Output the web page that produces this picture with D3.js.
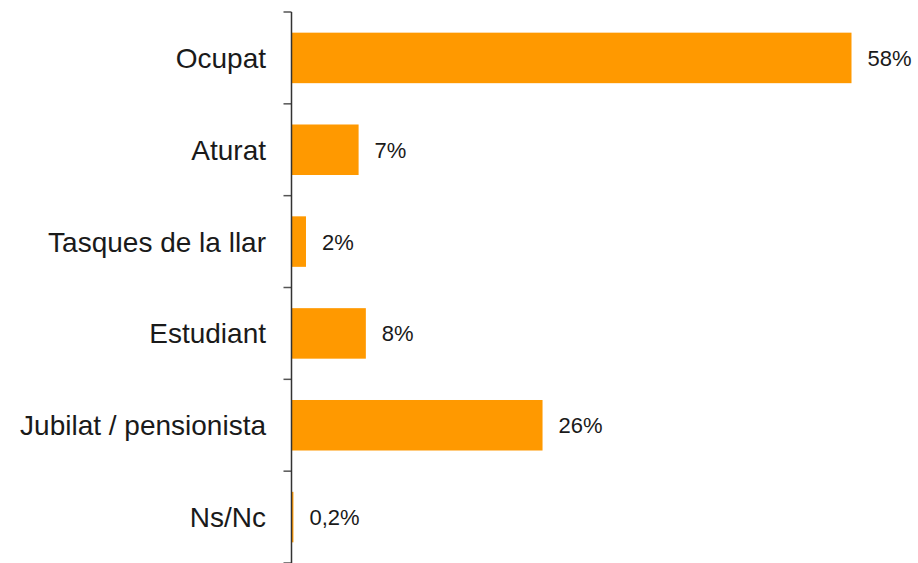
<!DOCTYPE html>
<html>
<head>
<meta charset="utf-8">
<script src="https://cdn.jsdelivr.net/npm/d3@7"></script>
<style>
  body { margin: 0; background: #fff; }
  text { font-family: "Liberation Sans", Arial, sans-serif; fill: #1a1a1a; }
</style>
</head>
<body>
<div id="chart"></div>
<script>
// categories and values
var categories = ["Ocupat", "Aturat", "Tasques de la llar", "Estudiant", "Jubilat / pensionista", "Ns/Nc"];
var values = [58, 6.95, 1.5, 7.7, 26, 0.2];
var labels = ["58%", "7%", "2%", "8%", "26%", "0,2%"];

var width = 918, height = 563;
var x0 = 291.5;

var svg = d3.select("#chart")
    .append("svg")
    .attr("width", width)
    .attr("height", height);

var x = d3.scaleLinear()
    .domain([0, 58])
    .range([x0, 851.5]);

var y = d3.scaleBand()
    .domain(categories)
    .range([12, 563])
    .paddingInner(0.45)
    .paddingOuter(0.225);

var data = categories.map(function(c, i) {
    return {cat: c, value: values[i], label: labels[i]};
});

// bars
svg.selectAll(".bar")
    .data(data)
    .enter().append("rect")
    .attr("class", "bar")
    .attr("x", x(0))
    .attr("y", function(d) { return y(d.cat); })
    .attr("width", function(d) { return x(d.value) - x(0); })
    .attr("height", y.bandwidth())
    .style("fill", "#ff9900");

// value labels
svg.selectAll(".val")
    .data(data)
    .enter().append("text")
    .attr("class", "val")
    .attr("x", function(d) { return x(d.value) + 16; })
    .attr("y", function(d) { return y(d.cat) + y.bandwidth() / 2; })
    .attr("dy", "0.36em")
    .style("font-size", "22px")
    .text(function(d) { return d.label; });

// category labels
svg.selectAll(".cat")
    .data(data)
    .enter().append("text")
    .attr("class", "cat")
    .attr("x", 266)
    .attr("y", function(d) { return y(d.cat) + y.bandwidth() / 2; })
    .attr("dy", "0.36em")
    .attr("text-anchor", "end")
    .style("font-size", "28px")
    .text(function(d) { return d.cat; });

// axis line and ticks at band boundaries
var step = y.step();
var bounds = d3.range(categories.length + 1).map(function(i) { return 12 + i * step; });

svg.selectAll(".tick")
    .data(bounds)
    .enter().append("line")
    .attr("x1", x0 - 8)
    .attr("x2", x0)
    .attr("y1", function(d) { return d; })
    .attr("y2", function(d) { return d; })
    .style("stroke", "#555")
    .style("stroke-width", 1.5);

svg.append("line")
    .attr("x1", x0)
    .attr("x2", x0)
    .attr("y1", 12)
    .attr("y2", 563)
    .style("stroke", "#333")
    .style("stroke-width", 1.5);
</script>
</body>
</html>
